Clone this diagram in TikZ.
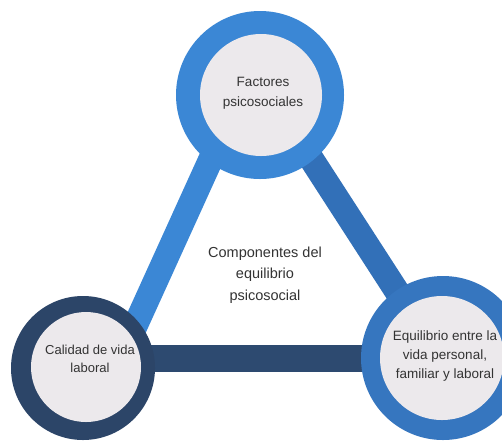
\documentclass[tikz,border=0pt]{standalone}
\usepackage{fontspec}
\setmainfont{Liberation Sans}
\definecolor{topblue}{HTML}{3B87D5}
\definecolor{rightblue}{HTML}{3676BF}
\definecolor{rconn}{HTML}{3270B8}
\definecolor{navy}{HTML}{2C4568}
\definecolor{navyconn}{HTML}{2D4A70}
\definecolor{innerfill}{HTML}{ECE9EC}
\definecolor{txt}{HTML}{333333}
\begin{document}
\begin{tikzpicture}[x=1pt,y=-1pt,
  ringnode/.style={circle,inner sep=0pt},
  innernode/.style={circle,inner sep=0pt,fill=innerfill},
  lbl/.style={align=center,text=txt,inner sep=0pt},
  conn/.style={line width=25pt}]
\useasboundingbox (0,0) rectangle (502,440);
\fill[white] (0,0) rectangle (502,440);
% connector ends
\coordinate (tl) at (240,95);
\coordinate (lt) at (116,368);
\coordinate (tr) at (270,95);
\coordinate (rt) at (440,358);
\coordinate (lb) at (83,358);
\coordinate (rb) at (442,358);
% connectors
\draw[conn,topblue] (tl) -- (lt);
\draw[conn,rconn] (tr) -- (rt);
\draw[conn,navyconn,line width=27pt] (lb) -- (rb);
% rings
\node[ringnode,fill=topblue,minimum size=168pt] (topring) at (260,95) {};
\node[ringnode,fill=navy,minimum size=144pt] (leftring) at (83,368) {};
\node[ringnode,fill=rightblue,minimum size=164pt] (rightring) at (443,358) {};
% inner discs
\node[innernode,minimum size=122pt] (topin) at (261,95) {};
\node[innernode,minimum size=110pt] (leftin) at (86,367) {};
\node[innernode,minimum size=124pt] (rightin) at (442,358) {};
% labels
\node[lbl,font=\fontsize{13.5}{20}\selectfont] (toptext) at (263,93) {Factores\\psicosociales};
\node[lbl,font=\fontsize{13}{18.5}\selectfont] (lefttext) at (90,359) {Calidad de vida\\laboral};
\node[lbl,font=\fontsize{13.5}{19}\selectfont] (righttext) at (445,356) {Equilibrio entre la\\vida personal,\\familiar y laboral};
\node[lbl,font=\fontsize{14.5}{21.5}\selectfont] (center) at (265,275) {Componentes del\\equilibrio\\psicosocial};
\end{tikzpicture}
\end{document}
